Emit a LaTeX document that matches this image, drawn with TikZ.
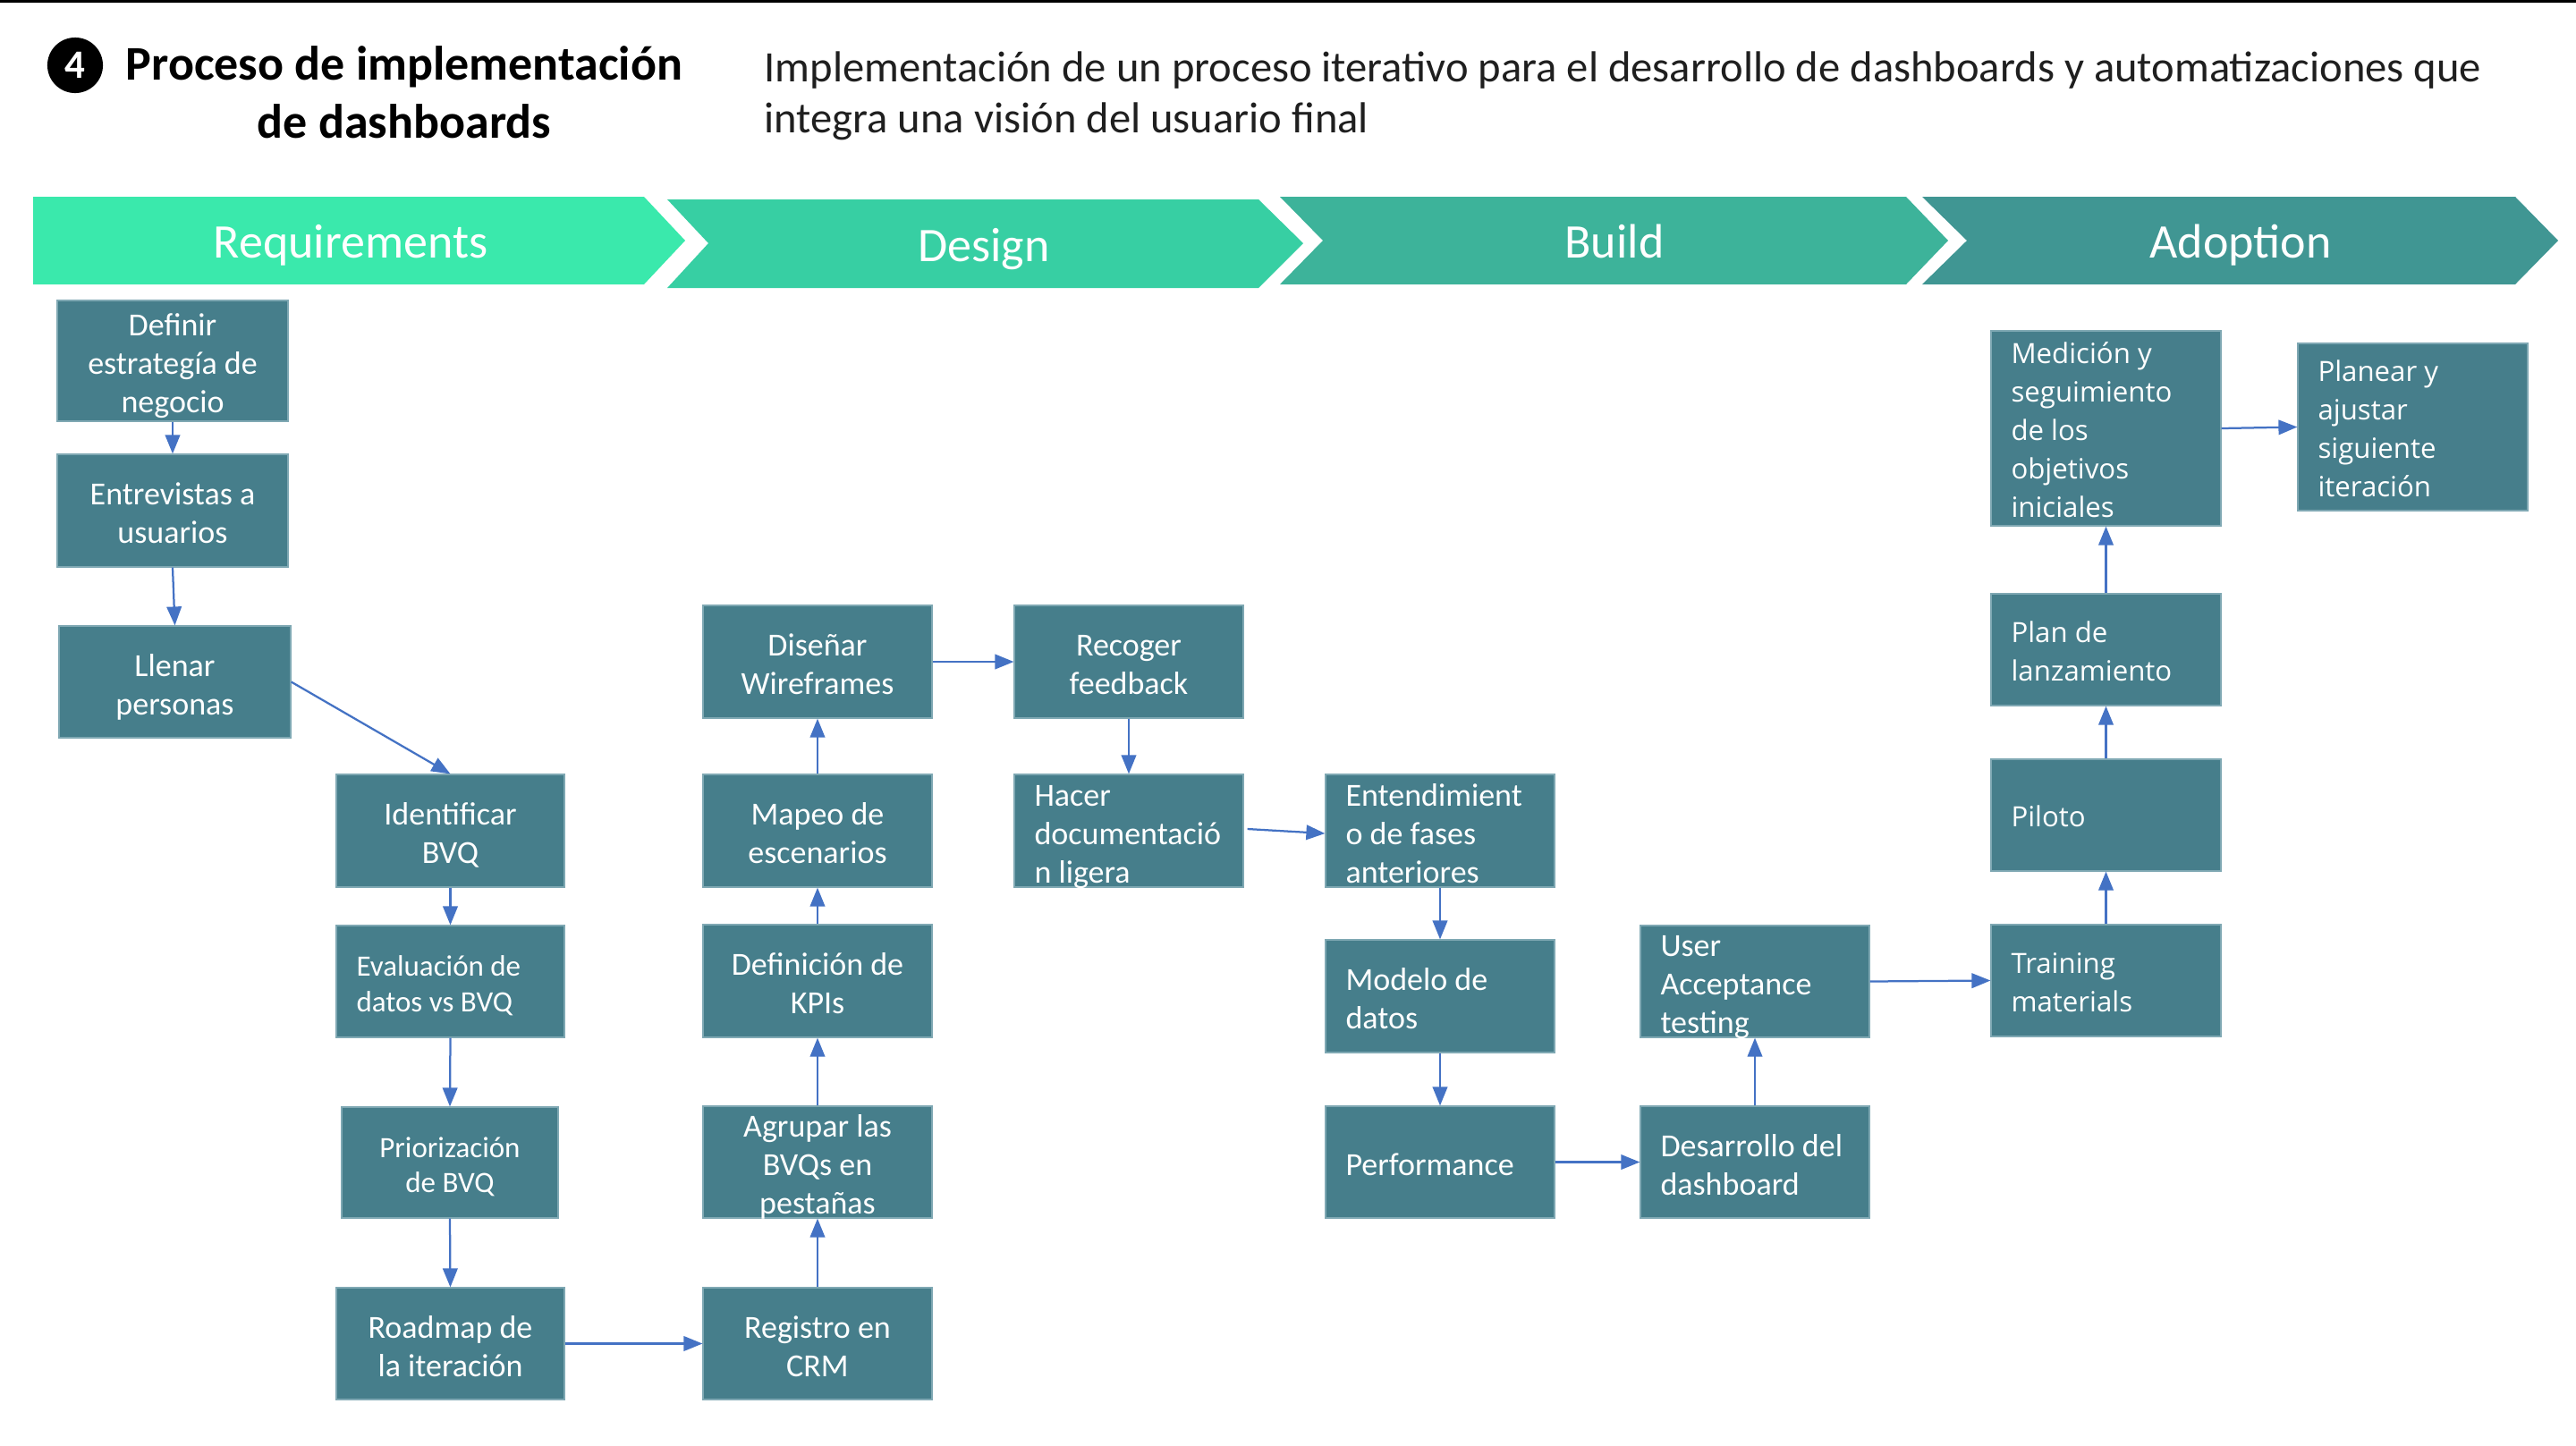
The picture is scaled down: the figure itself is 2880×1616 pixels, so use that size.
\documentclass[tikz,border=0pt]{standalone}
\usepackage{fontspec}
\setmainfont{Carlito}
\newfontfamily\segoe{Open Sans}
\usetikzlibrary{arrows.meta,calc}
\definecolor{boxc}{HTML}{467E8B}
\definecolor{boxedge}{HTML}{7FA8B3}
\definecolor{arrc}{HTML}{4472C4}
\definecolor{chA}{HTML}{3AE9AC}
\definecolor{chB}{HTML}{37CFA3}
\definecolor{chC}{HTML}{3DB39A}
\definecolor{chD}{HTML}{409693}
\definecolor{txtc}{HTML}{1F1F1F}
\def\myalign{\centering}
\newcommand\mybox[7]{%
  \pgfmathsetlengthmacro\bw{(#4-#2)/3}%
  \pgfmathsetlengthmacro\bh{(#5-#3)/3}%
  \pgfmathsetlengthmacro\tw{(#4-#2)/3-15}%
  \node[#6, minimum width=\bw, minimum height=\bh] (#1) at ({(#2+#4)/2},{(#3+#5)/2})
    {\vbox to \bh{\vss\hsize=\tw\parindent=0pt\myalign
      \rule{0pt}{1.1em}#7\rule[-0.25em]{0pt}{0.25em}\par\vss}};}
\tikzset{
  box/.style={fill=boxc, draw=boxedge, line width=0.4pt, text=white, inner xsep=7.5pt, inner ysep=0pt, font=\fontsize{12}{14.3}\selectfont},
  cbox/.style={box, /utils/exec={\def\myalign{\centering}}},
  lbox/.style={box, /utils/exec={\def\myalign{\raggedright}}},
  sbox/.style={lbox, font=\segoe\fontsize{10.4}{14.3}\selectfont},
  arr/.style={draw=arrc, line width=0.75pt, -{Triangle[length=7pt,width=5.5pt]}},
  chtext/.style={text=white, font=\fontsize{18}{21}\selectfont, anchor=base, inner sep=0pt},
}
\begin{document}
\begin{tikzpicture}[x=0.3333333pt, y=-0.3333333pt]
\useasboundingbox (0,0) rectangle (2880,1616);
\fill[white] (0,0) rectangle (2880,1616);
\fill[black] (0,0) rectangle (2880,3);
% header
\node[circle, fill=black, minimum size=20.7pt, inner sep=0pt, text=white, font=\bfseries\fontsize{15}{18}\selectfont] (num) at (84,73) {4};
\node[anchor=base, inner sep=0pt, text=black, font=\bfseries\fontsize{18}{22}\selectfont] (title1) at (452,89) {Proceso de implementación};
\node[anchor=base, inner sep=0pt, text=black, font=\bfseries\fontsize{18}{22}\selectfont] (title2) at (452,154) {de dashboards};
\node[anchor=base west, inner sep=0pt, text=txtc, font=\fontsize{16.2}{19}\selectfont] (sub1) at (854,91) {Implementación de un proceso iterativo para el desarrollo de dashboards y automatizaciones que};
\node[anchor=base west, inner sep=0pt, text=txtc, font=\fontsize{16.2}{19}\selectfont] (sub2) at (854,148) {integra una visión del usuario final};
% chevrons
\fill[chA] (37,220) -- (720,220) -- (766,269) -- (720,318) -- (37,318) -- cycle;
\fill[chB] (746,223) -- (1407,223) -- (1457,272) -- (1407,322) -- (746,322) -- (792,272) -- cycle;
\fill[chC] (1431,220) -- (2131,220) -- (2178,269) -- (2131,318) -- (1431,318) -- (1479,269) -- cycle;
\fill[chD] (2149,220) -- (2812,220) -- (2860,269) -- (2812,318) -- (2149,318) -- (2199,269) -- cycle;
\node[chtext] (phA) at (392,288) {Requirements};
\node[chtext] (phB) at (1100,292) {Design};
\node[chtext] (phC) at (1805,288) {Build};
\node[chtext] (phD) at (2505,288) {Adoption};
% boxes
\mybox{def}{64}{336}{322}{471}{cbox}{Definir\\estrategía de\\negocio}
\mybox{entr}{64}{508}{322}{634}{cbox}{Entrevistas a\\usuarios}
\mybox{lle}{66}{700}{325}{825}{cbox}{Llenar\\personas}
\mybox{idb}{376}{866}{631}{992}{cbox}{Identificar\\BVQ}
\mybox{eva}{376}{1035}{631}{1160}{lbox,font=\fontsize{11}{13.2}\selectfont}{Evaluación de\\datos vs BVQ}
\mybox{pri}{382}{1238}{624}{1362}{cbox,font=\fontsize{11}{13.2}\selectfont}{Priorización\\de BVQ}
\mybox{road}{376}{1440}{631}{1565}{cbox}{Roadmap de\\la iteración}
\mybox{reg}{786}{1440}{1042}{1565}{cbox}{Registro en\\CRM}
\mybox{agr}{786}{1237}{1042}{1362}{cbox}{Agrupar las\\BVQs en\\pestañas}
\mybox{kpi}{786}{1034}{1042}{1160}{cbox}{Definición de\\KPIs}
\mybox{map}{786}{866}{1042}{992}{cbox}{Mapeo de\\escenarios}
\mybox{dis}{786}{677}{1042}{803}{cbox}{Diseñar\\Wireframes}
\mybox{rec}{1134}{677}{1390}{803}{cbox}{Recoger\\feedback}
\mybox{hac}{1134}{866}{1390}{992}{lbox}{Hacer\\documentació\\n ligera}
\mybox{ente}{1482}{866}{1738}{992}{lbox}{Entendimient\\o de fases\\anteriores}
\mybox{mod}{1482}{1051}{1738}{1177}{lbox}{Modelo de\\datos}
\mybox{perf}{1482}{1237}{1738}{1362}{lbox}{Performance}
\mybox{des}{1834}{1237}{2090}{1362}{lbox}{Desarrollo del\\dashboard}
\mybox{uat}{1834}{1035}{2090}{1160}{lbox}{User\\Acceptance\\testing}
\mybox{tra}{2226}{1034}{2483}{1159}{sbox}{Training\\materials}
\mybox{pil}{2226}{849}{2483}{974}{sbox}{Piloto}
\mybox{plan}{2226}{664}{2483}{789}{sbox}{Plan de\\lanzamiento}
\mybox{med}{2226}{370}{2483}{588}{sbox}{Medición y\\seguimiento\\de los\\objetivos\\iniciales}
\mybox{pla}{2569}{384}{2826}{571}{sbox}{Planear y\\ajustar\\siguiente\\iteración}
% connectors
\draw[arr] (def.south) -- (entr.north);
\draw[arr] (entr.south) -- (lle.north);
\draw[arr] (lle.east) -- (idb.north);
\draw[arr] (idb.south) -- (eva.north);
\draw[arr] (eva.south) -- (pri.north);
\draw[arr] (pri.south) -- (road.north);
\draw[arr] (road.east) -- (reg.west);
\draw[arr] (reg.north) -- (agr.south);
\draw[arr] (agr.north) -- (kpi.south);
\draw[arr] (kpi.north) -- (map.south);
\draw[arr] (map.north) -- (dis.south);
\draw[arr] (dis.east) -- (rec.west);
\draw[arr] (rec.south) -- (hac.north);
\draw[arr] ([shift={(4,-2)}]hac.east) -- ([shift={(0,3)}]ente.west);
\draw[arr] (ente.south) -- (mod.north);
\draw[arr] (mod.south) -- (perf.north);
\draw[arr] (perf.east) -- (des.west);
\draw[arr] (des.north) -- (uat.south);
\draw[arr] (uat.east) -- (tra.west);
\draw[arr] (tra.north) -- (pil.south);
\draw[arr] (pil.north) -- (plan.south);
\draw[arr] (plan.north) -- (med.south);
\draw[arr] (med.east) -- (pla.west);
\end{tikzpicture}
\end{document}
